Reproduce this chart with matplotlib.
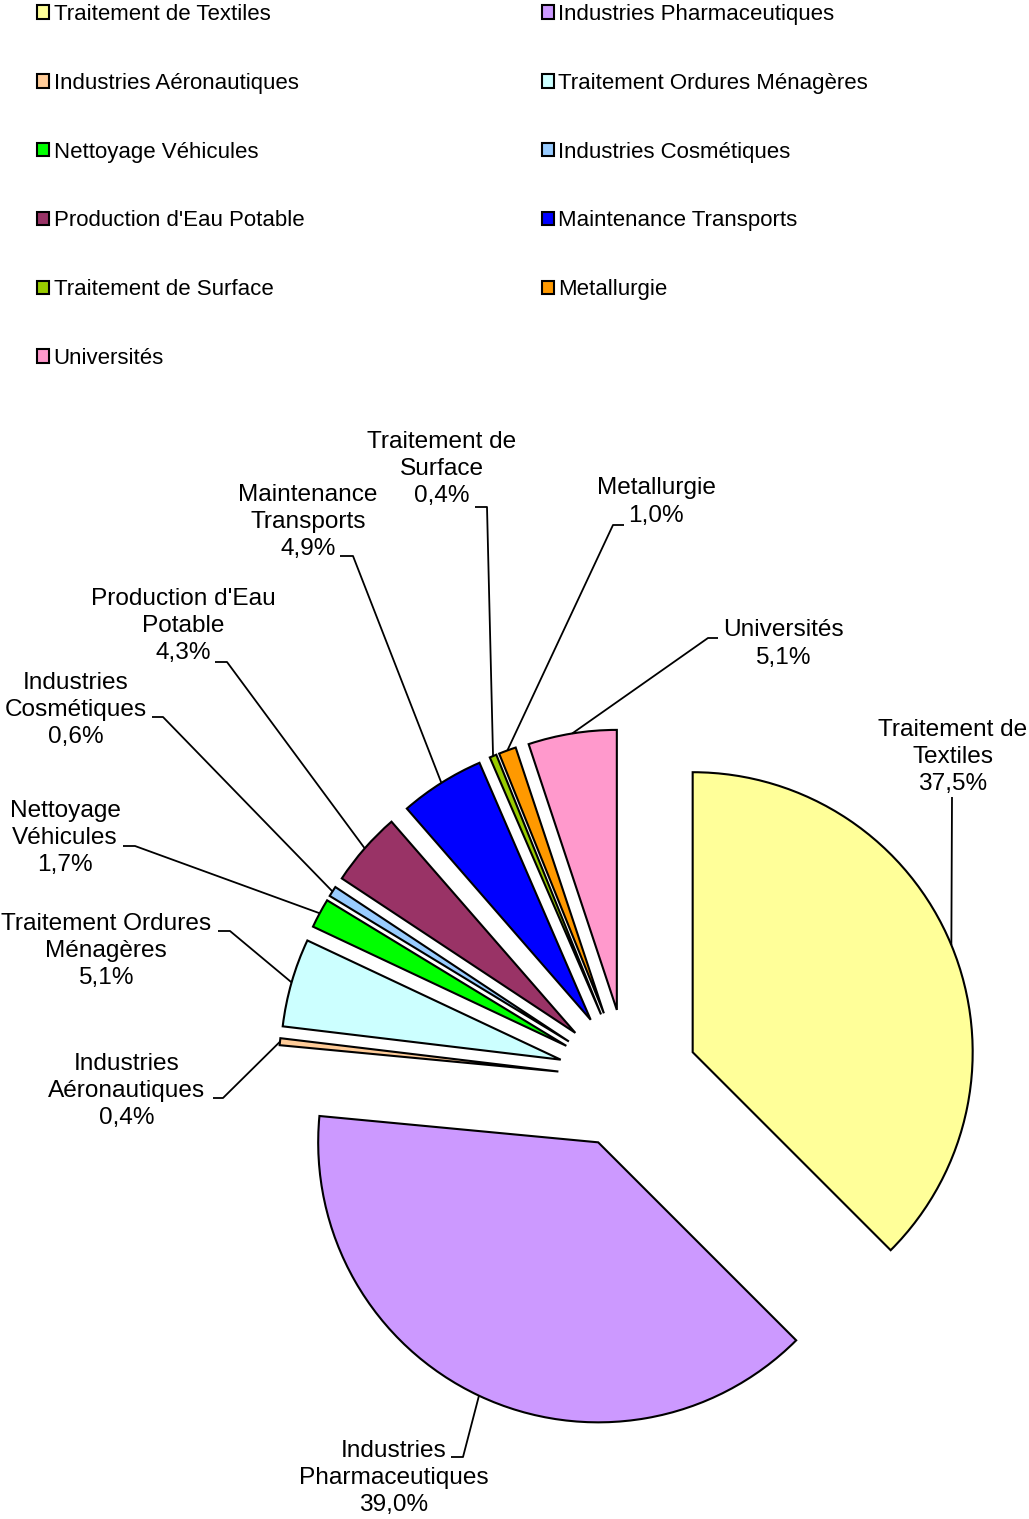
import numpy as np
import matplotlib.pyplot as plt
from matplotlib.patches import Patch

plt.rcParams['font.family'] = ['Liberation Sans', 'DejaVu Sans']

W, H = 1029, 1519

# Data
sectors = ["Traitement de Textiles", "Industries Pharmaceutiques", "Industries Aéronautiques",
           "Traitement Ordures Ménagères", "Nettoyage Véhicules", "Industries Cosmétiques",
           "Production d'Eau Potable", "Maintenance Transports", "Traitement de Surface",
           "Metallurgie", "Universités"]
label_names = ["Traitement de\nTextiles", "Industries\nPharmaceutiques", "Industries\nAéronautiques",
               "Traitement Ordures\nMénagères", "Nettoyage\nVéhicules", "Industries\nCosmétiques",
               "Production d'Eau\nPotable", "Maintenance\nTransports", "Traitement de\nSurface",
               "Metallurgie", "Universités"]
shares = [37.5, 39.0, 0.4, 5.1, 1.7, 0.6, 4.3, 4.9, 0.4, 1.0, 5.1]
colors = ["#FFFF99", "#CC99FF", "#FFCC99", "#CCFFFF", "#00FF00", "#99CCFF",
          "#993366", "#0000FF", "#99CC00", "#FF9900", "#FF99CC"]

# label layout in pixel coords (from top): text centre, leader elbow, leader end
text_pos = [(953, 757), (394, 1478), (127, 1091), (106, 951), (65, 838), (76, 710),
            (183, 626), (308, 522), (442, 469), (656, 502), (783, 644)]
elbows = [(952, 797), (463, 1457), (223, 1098), (230, 931), (135, 846), (163, 717),
          (227, 662), (353, 556), (487, 507), (613, 525), (708, 638)]
ends = [952, 451, 213, 218, 123, 152, 215, 340, 475, 624, 718]

fig = plt.figure(figsize=(W / 100, H / 100), dpi=100)
ax = fig.add_axes([0, 0, 1, 1])

radius = 280
wedges, _ = ax.pie(shares, colors=colors, startangle=90, counterclock=False,
                   radius=radius, center=(628, H - 1079), explode=[70] * len(shares),
                   wedgeprops=dict(edgecolor='black', linewidth=1.5))

for w, name, v, (tx, ty), (ex, ey), xe in zip(wedges, label_names, shares, text_pos, elbows, ends):
    mid = np.deg2rad((w.theta1 + w.theta2) / 2)
    sx = w.center[0] + w.r * np.cos(mid)
    sy = w.center[1] + w.r * np.sin(mid)
    ax.plot([sx, ex, xe], [sy, H - ey, H - ey], color='black', lw=1.3, solid_capstyle='butt')
    txt = name + "\n" + f"{v:.1f}%".replace('.', ',')
    ax.text(tx, H - ty, txt, ha='center', va='center', fontsize=17.6, linespacing=1.31)

ax.set_xlim(0, W)
ax.set_ylim(0, H)
ax.set_aspect('equal')
ax.axis('off')

# legend, filled row by row
handles = [Patch(facecolor=c, edgecolor='black', linewidth=1.5) for c in colors]
order = list(range(0, 11, 2)) + list(range(1, 11, 2))
fig.legend([handles[i] for i in order], [sectors[i] for i in order],
           loc='upper left', bbox_to_anchor=(37 / W, 1 - 4 / H), ncol=2, frameon=False,
           fontsize=16, handlelength=0.55, handleheight=0.55, handletextpad=0.2,
           columnspacing=10.68, labelspacing=2.15, borderpad=0, borderaxespad=0)

fig.savefig('out.png', dpi=100)
